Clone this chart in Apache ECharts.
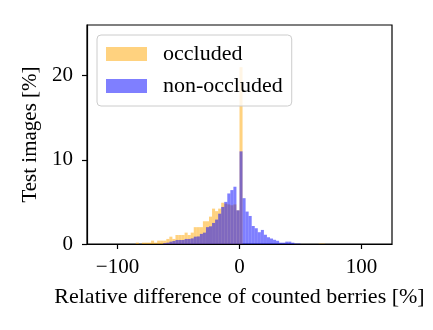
<!DOCTYPE html>
<html>
<head>
<meta charset="utf-8">
<script src="https://cdn.jsdelivr.net/npm/echarts@6/dist/echarts.min.js"></script>
<style>
  html, body { margin: 0; padding: 0; background: #fff; }
  #chart { width: 433px; height: 330px; }
</style>
</head>
<body>
<div id="chart"></div>
<script>
// left edges of the histogram bins (bin width 2.5 %)
const binWidth = 2.5;
const bins = [
  -87.5, -85, -82.5, -80, -77.5, -75, -72.5, -70, -67.5, -65,
  -62.5, -60, -57.5, -55, -52.5, -50, -47.5, -45, -42.5, -40,
  -37.5, -35, -32.5, -30, -27.5, -25, -22.5, -20, -17.5, -15,
  -12.5, -10, -7.5, -5, -2.5, 0, 2.5, 5, 7.5, 10,
  12.5, 15, 17.5, 20, 22.5, 25, 27.5, 30, 32.5, 35,
  37.5, 40, 42.5, 45, 47.5, 50, 52.5, 55, 57.5, 60,
  62.5, 65, 67.5
];
const occluded = [
  0, 0.16, 0, 0.16, 0.16, 0.16, 0.4, 0.16, 0.4, 0.4,
  0.4, 0.6, 0.87, 0.6, 1.07, 1.07, 1.07, 1.35, 1.07, 1.35,
  2.0, 2.0, 2.0, 2.7, 2.7, 3.25, 4.2, 3.9, 4.2, 4.9,
  4.8, 4.7, 4.6, 4.7, 4.0, 21.0, 0, 0, 0, 0,
  0, 0, 0, 0, 0, 0, 0, 0, 0, 0,
  0, 0, 0, 0, 0, 0, 0, 0, 0, 0,
  0, 0.05, 0.05
];
const nonOccluded = [
  0, 0, 0, 0, 0, 0, 0, 0, 0, 0,
  0.1, 0.16, 0.28, 0.36, 0.48, 0.48, 0.48, 0.6, 0.6, 0.67,
  0.87, 0.9, 1.2, 1.35, 2.0, 2.1, 2.5, 2.9, 3.6, 4.4,
  5.0, 6.0, 6.4, 6.8, 4.0, 11.0, 5.44, 3.85, 3.33, 2.14,
  1.87, 1.4, 1.67, 1.1, 0.8, 0.65, 0.5, 0.38, 0.16, 0.16,
  0.28, 0.28, 0.16, 0.05, 0.05, 0, 0, 0, 0, 0,
  0, 0, 0
];
const xTicks = [-100, 0, 100];
const yTicks = [0, 10, 20];

const font = "'Liberation Serif', serif";

function histData(values) {
  return bins.map((b, i) => [b, b + binWidth, values[i]]);
}

function renderBar(params, api) {
  const p0 = api.coord([api.value(0), 0]);
  const p1 = api.coord([api.value(1), api.value(2)]);
  return {
    type: "rect",
    shape: { x: p0[0], y: p1[1], width: p1[0] - p0[0], height: p0[1] - p1[1] },
    style: { fill: api.visual("color") },
  };
}

let myChart = echarts.init(document.getElementById("chart"));
myChart.setOption({
  animation: false,
  grid: {
    left: 87,
    right: 41,
    top: 25,
    bottom: 86,
    show: true,
    borderColor: "#000",
    borderWidth: 1.2,
  },
  xAxis: {
    type: "value",
    min: -125,
    max: 125,
    name: "Relative difference of counted berries [%]",
    nameLocation: "middle",
    nameGap: 42,
    nameTextStyle: { fontFamily: font, fontSize: 22, color: "#000" },
    axisLine: { show: true, onZero: false, lineStyle: { color: "#000", width: 1.2 } },
    axisTick: { show: true, inside: false, length: 5, customValues: xTicks, lineStyle: { color: "#000", width: 1.2 } },
    axisLabel: {
      customValues: xTicks,
      margin: 13,
      fontFamily: font,
      fontSize: 21,
      color: "#000",
      formatter: (v) => (v < 0 ? "\u2212" + Math.abs(v) : String(v)),
    },
    splitLine: { show: false },
  },
  yAxis: {
    type: "value",
    min: 0,
    max: 26,
    name: "Test images [%]",
    nameLocation: "middle",
    nameGap: 45,
    nameTextStyle: { fontFamily: font, fontSize: 21, color: "#000" },
    axisLine: { show: true, onZero: false, lineStyle: { color: "#000", width: 1.2 } },
    axisTick: { show: true, inside: false, length: 5, customValues: yTicks, lineStyle: { color: "#000", width: 1.2 } },
    axisLabel: { customValues: yTicks, margin: 14, fontFamily: font, fontSize: 21, color: "#000" },
    splitLine: { show: false },
  },
  legend: {
    orient: "vertical",
    left: 97,
    top: 35,
    padding: [8, 9, 9, 9],
    itemWidth: 41,
    itemHeight: 14,
    itemGap: 10,
    icon: "rect",
    backgroundColor: "rgba(255,255,255,0.8)",
    borderColor: "#cccccc",
    borderWidth: 1,
    borderRadius: 4,
    textStyle: { fontFamily: font, fontSize: 22, color: "#000", lineHeight: 20, padding: [0, 0, 0, 11] },
    data: ["occluded", "non-occluded"],
  },
  series: [
    {
      name: "occluded",
      type: "custom",
      renderItem: renderBar,
      itemStyle: { color: "rgba(255,165,0,0.5)" },
      encode: { x: [0, 1], y: 2 },
      data: histData(occluded),
      z: 1,
    },
    {
      name: "non-occluded",
      type: "custom",
      renderItem: renderBar,
      itemStyle: { color: "rgba(0,0,255,0.5)" },
      encode: { x: [0, 1], y: 2 },
      data: histData(nonOccluded),
      z: 2,
    },
  ],
});
window.addEventListener("resize", () => {
  myChart.resize();
});
</script>
</body>
</html>
